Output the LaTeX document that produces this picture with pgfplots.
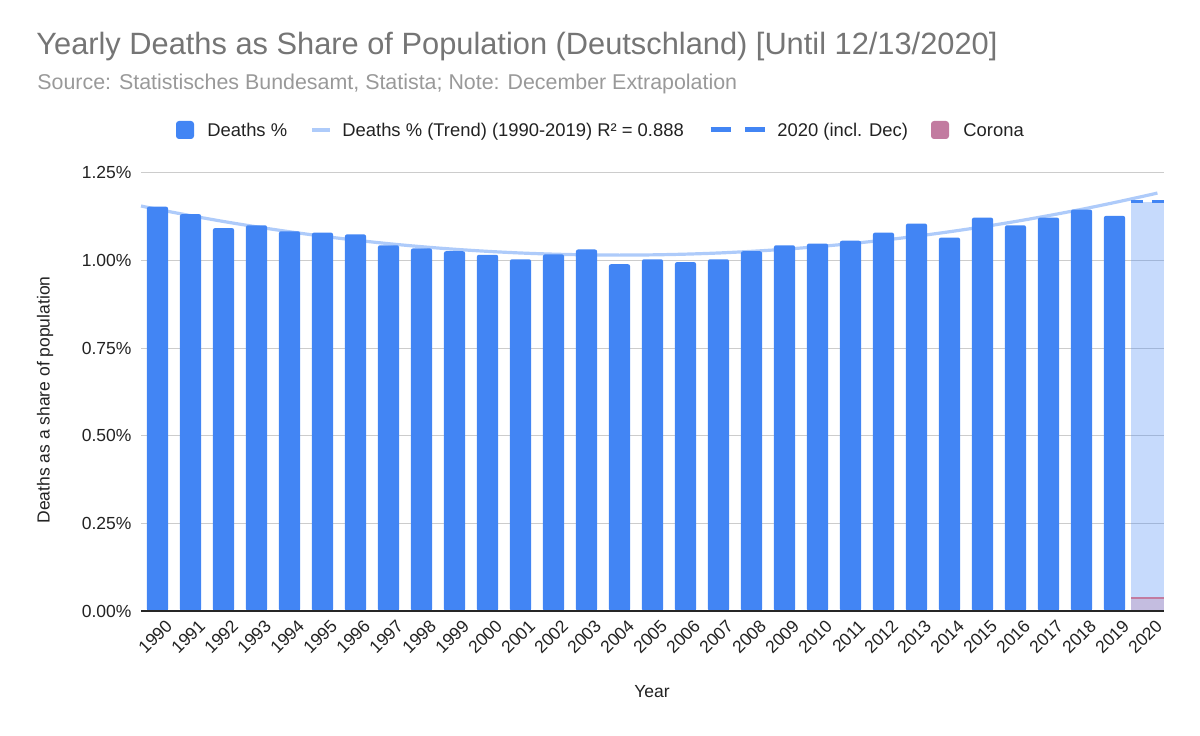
\documentclass[border=0pt]{standalone}
\usepackage{pgfplots}
\pgfplotsset{compat=1.18}
\usepackage{pgfplotstable}
\usepackage{fontspec}
\setmainfont{Liberation Sans}
\definecolor{barblue}{HTML}{4285F4}
\definecolor{trendblue}{HTML}{AECBFA}
\definecolor{coronap}{HTML}{C27BA0}
\definecolor{titlegray}{HTML}{757575}
\definecolor{subgray}{HTML}{999999}
\definecolor{gridgray}{HTML}{CCCCCC}
\definecolor{txt}{HTML}{222222}

\pgfplotstableread{
year val
1990 1.153
1991 1.132
1992 1.092
1993 1.100
1994 1.083
1995 1.079
1996 1.074
1997 1.043
1998 1.034
1999 1.026
2000 1.016
2001 1.003
2002 1.017
2003 1.031
2004 0.989
2005 1.003
2006 0.995
2007 1.003
2008 1.026
2009 1.043
2010 1.048
2011 1.056
2012 1.079
2013 1.105
2014 1.065
2015 1.122
2016 1.100
2017 1.122
2018 1.145
2019 1.127
}\deaths

\newcommand\legfont{\fontsize{9.2}{11}\selectfont}

\begin{document}
\begin{tikzpicture}
\path (0pt,0pt) rectangle (600pt,367.5pt);
\node[anchor=base west, inner sep=0pt, text=titlegray, font=\fontsize{15.4}{17}\selectfont] at (18pt,340pt) {Yearly Deaths as Share of Population (Deutschland) [Until 12/13/2020]};
\node[anchor=base west, inner sep=0pt, text=subgray, font=\fontsize{10.7}{12}\selectfont] at (18.5pt,322.5pt) {Source: Statistisches Bundesamt, Statista; Note: December Extrapolation};

% legend
\fill[barblue, rounded corners=1.5pt] (88pt,298pt) rectangle (97pt,307pt);
\node[anchor=base west, inner sep=0pt, font=\legfont, text=txt] at (103.5pt,299.25pt) {Deaths \%};
\draw[trendblue, line width=2pt] (156pt,302.5pt) -- (165pt,302.5pt);
\node[anchor=base west, inner sep=0pt, font=\legfont, text=txt] at (171pt,299.25pt) {Deaths \% (Trend) (1990-2019) R² = 0.888};
\draw[barblue, line width=2.5pt] (355.35pt,302.5pt) -- (365.35pt,302.5pt);
\draw[barblue, line width=2.5pt] (372.5pt,302.5pt) -- (382.5pt,302.5pt);
\node[anchor=base west, inner sep=0pt, font=\legfont, text=txt] at (388.5pt,299.25pt) {2020 (incl. Dec)};
\fill[coronap, rounded corners=1.5pt] (465.5pt,298pt) rectangle (474.5pt,307pt);
\node[anchor=base west, inner sep=0pt, font=\legfont, text=txt] at (481.5pt,299.25pt) {Corona};

\begin{axis}[
  at={(70.5pt,62pt)}, anchor=south west, scale only axis,
  width=511.5pt, height=219.15pt,
  xmin=1989.5, xmax=2020.5, ymin=0, ymax=1.25,
  axis line style={draw=none},
  major tick length=0pt,
  ytick={0,0.25,0.5,0.75,1,1.25},
  yticklabels={0.00\%,0.25\%,0.50\%,0.75\%,1.00\%,1.25\%},
  xtick={1990,1991,1992,1993,1994,1995,1996,1997,1998,1999,2000,2001,2002,2003,2004,2005,2006,2007,2008,2009,2010,2011,2012,2013,2014,2015,2016,2017,2018,2019,2020},
  xticklabels={1990,1991,1992,1993,1994,1995,1996,1997,1998,1999,2000,2001,2002,2003,2004,2005,2006,2007,2008,2009,2010,2011,2012,2013,2014,2015,2016,2017,2018,2019,2020},
  ymajorgrids, grid style={gridgray, line width=0.5pt},
  tick label style={font=\fontsize{8.75}{10}\selectfont, text=txt},
  yticklabel style={anchor=east, inner sep=0pt, xshift=-4.6pt},
  xticklabel style={rotate=45, anchor=north east, inner sep=0pt, yshift=-5pt},
  xlabel={Year}, ylabel={Deaths as a share of population},
  label style={font=\fontsize{8.75}{10}\selectfont, text=txt},
  xlabel style={at={(0.4995,-0.1848)}, anchor=center},
  ylabel style={at={(-0.0938,0.4814)}, anchor=center},
  clip=false,
]
% 2020 extrapolated area
\addplot[draw=none, fill=barblue, fill opacity=0.3] coordinates {(2019.5,1.167) (2020.5,1.167)} \closedcycle;
% Corona area
\addplot[draw=none, fill=coronap, fill opacity=0.3] coordinates {(2019.5,0.037) (2020.5,0.037)} \closedcycle;
\addplot[coronap, line width=1.3pt, no markers] coordinates {(2019.5,0.037) (2020.5,0.037)};
% trend
\addplot[trendblue, line width=1.6pt, smooth, no markers] coordinates {
(1989.5,1.155) (1990,1.1455) (1991,1.1276) (1992,1.1109) (1993,1.0956) (1994,1.0816)
(1995,1.0689) (1996,1.0576) (1997,1.0476) (1998,1.0390) (1999,1.0317) (2000,1.0257)
(2001,1.0210) (2002,1.0177) (2003,1.0157) (2004,1.0150) (2005,1.0157) (2006,1.0177)
(2007,1.0210) (2008,1.0257) (2009,1.0317) (2010,1.0390) (2011,1.0476) (2012,1.0576)
(2013,1.0689) (2014,1.0816) (2015,1.0956) (2016,1.1109) (2017,1.1276) (2018,1.1455)
(2019,1.1649) (2020,1.1855) (2020.3,1.1920)};
% bars
\addplot[ybar, bar width=0.64, fill=barblue, draw=none, rounded corners=1pt] table[x=year,y=val]{\deaths};
\draw[black!85, line width=0.6pt] (axis cs:1989.5,0) -- (axis cs:2020.5,0);
% 2020 incl Dec dashed
\addplot[barblue, line width=1.5pt, dash pattern=on 6pt off 4.5pt, no markers] coordinates {(2019.5,1.167) (2020.5,1.167)};
\end{axis}
\end{tikzpicture}
\end{document}
